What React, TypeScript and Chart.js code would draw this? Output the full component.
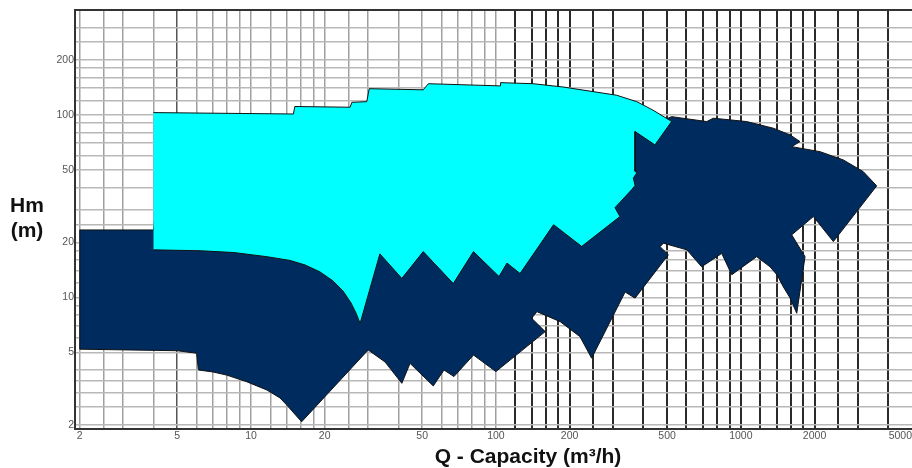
import React, { useEffect, useRef } from 'react';
import { Chart, registerables } from 'chart.js';

Chart.register(...registerables);

// Axis ranges (log-log)
const X_MIN = 1.912;
const X_MAX = 5000;
const Y_MIN = 1.9;
const Y_MAX = 375;

// Grid / tick values
const xTickValues = [X_MIN, 2, 2.5, 3, 4, 5, 6, 7, 8, 9, 10, 12, 14, 16, 18, 20, 25, 30, 40, 50, 60, 70, 80, 90, 100,
  120, 140, 160, 180, 200, 250, 300, 400, 500, 600, 700, 800, 900, 1000, 1200, 1400, 1600, 1800, 2000, 2500, 3000, 4000, 5000];
const xLabelValues = [2, 5, 10, 20, 50, 100, 200, 500, 1000, 2000, 5000];
const yTickValues = [2, 2.5, 3, 3.5, 4, 5, 6, 7, 8, 9, 10, 12, 14, 16, 18, 20, 25, 30, 40, 50, 60, 70, 80, 90, 100,
  120, 140, 160, 180, 200, 250, 300];
const yLabelValues = [2, 5, 10, 20, 50, 100, 200];

// Cyan range envelope (Q in m3/h, H in m)
const cyanQ = [4.0, 14.9, 15.1, 25.4, 25.8, 29.7, 30.4, 50.5, 53, 104, 104.5, 142, 188, 249, 311, 376, 438, 522,
  446, 370, 370, 376, 364, 370, 359, 306.5, 321, 224, 172, 125.5, 111, 103, 81, 67, 50.5, 41.3, 33.6, 27.9,
  26.84, 25.61, 23.75, 21.62, 19.13, 16.62, 14.43, 11.6, 8.5, 6.2, 4.0];
const cyanH = [102.8, 101, 111, 110, 117, 118, 139, 137, 148, 144, 150, 148, 142, 134, 128, 118, 106, 92,
  68.4, 81, 49, 48, 45, 41, 39, 31, 27.7, 19, 25, 13.5, 15.4, 13.0, 17.8, 11.9, 17.8, 12.7, 17.3, 7.2,
  8.21, 9.32, 10.84, 12.3, 13.78, 15.05, 15.93, 16.7, 17.6, 18.0, 18.2];

// Navy range envelope
const navyQ = [2.0, 4.0, 4.4, 388, 522, 726, 772, 1057, 1358, 1589, 1745, 1614, 2106, 2622, 3164, 3589,
  2387, 1978, 1614, 1829, 1692, 1589, 1492, 1406, 1316, 1161, 918, 836, 692, 602, 483, 468, 506, 370, 337, 246, 220.5,
  183, 147, 140, 159, 100, 81, 67.4, 61.4, 55.5, 44.6, 41.3, 35.3, 30.1, 16.1, 14.0, 13.14, 11.6, 9.6, 7.96, 7.0, 6.1,
  6.0, 5.0, 2.0];
const navyH = [23.4, 23.4, 82.6, 82.6, 97.7, 91.8, 95.8, 91.8, 84.4, 77.6, 71.3, 66.9, 62.8, 56.6, 48.8, 40.8,
  20.2, 27.7, 22.0, 16.7, 8.18, 9.92, 11.4, 13.27, 14.7, 16.7, 13.3, 17.4, 14.7, 18.2, 19.8, 18.95, 17.1, 9.9, 10.7, 4.64, 6.09,
  7.36, 8.35, 7.68, 6.49, 3.92, 4.83, 3.68, 4.0, 3.27, 4.35, 3.38, 4.42, 5.15, 2.08, 2.57, 2.81, 3.11, 3.45, 3.75, 3.9, 4.0,
  4.94, 5.1, 5.2];

const FONT = '"Liberation Sans", Arial, sans-serif';

function toClosedPoints(q: number[], h: number[]) {
  const pts = q.map((x, i) => ({ x, y: h[i] }));
  pts.push({ x: q[0], y: h[0] });
  return pts;
}

const decorPlugin = {
  id: 'decor',
  afterDraw(chart: any) {
    const { ctx, chartArea } = chart;
    ctx.save();
    ctx.strokeStyle = '#333';
    ctx.lineWidth = 2;
    ctx.beginPath();
    ctx.moveTo(chartArea.left - 1, chartArea.top);
    ctx.lineTo(chartArea.right, chartArea.top);
    ctx.stroke();
    ctx.fillStyle = '#111';
    ctx.font = `bold 21px ${FONT}`;
    ctx.textAlign = 'center';
    ctx.textBaseline = 'alphabetic';
    ctx.fillText('Hm', 27, 212);
    ctx.fillText('(m)', 27, 237);
    ctx.fillText('Q - Capacity (m³/h)', 528, 463);
    ctx.restore();
  },
};

export default function App() {
  const ref = useRef<HTMLCanvasElement | null>(null);

  useEffect(() => {
    if (!ref.current) return;
    const cyanPts = toClosedPoints(cyanQ, cyanH);
    const navyPts = toClosedPoints(navyQ, navyH);
    const chart = new Chart(ref.current, {
      type: 'scatter',
      data: {
        datasets: [
          {
            label: 'cyan',
            data: cyanPts,
            showLine: true,
            fill: 'shape',
            backgroundColor: '#00FFFF',
            borderColor: '#111',
            borderWidth: 1,
            pointRadius: 0,
            tension: 0,
            segment: {
              borderColor: (c: any) => (c.p1DataIndex === cyanPts.length - 1 ? 'rgba(0,0,0,0)' : '#111'),
            },
          } as any,
          {
            label: 'navy',
            data: navyPts,
            showLine: true,
            fill: 'shape',
            backgroundColor: '#002B5E',
            borderColor: '#111',
            borderWidth: 1,
            pointRadius: 0,
            tension: 0,
          } as any,
        ],
      },
      options: {
        animation: false,
        responsive: false,
        devicePixelRatio: 1,
        layout: { padding: { left: 0, right: 0, top: 10, bottom: 0 } },
        plugins: { legend: { display: false }, tooltip: { enabled: false } },
        scales: {
          x: {
            type: 'logarithmic',
            min: X_MIN,
            max: X_MAX,
            bounds: 'data',
            afterBuildTicks: (s: any) => {
              s.ticks = xTickValues.map((v) => ({ value: v }));
            },
            afterFit: (s: any) => {
              s.height = 39;
              s.paddingLeft = 0;
              s.paddingRight = 0;
            },
            ticks: {
              autoSkip: false,
              maxRotation: 0,
              align: 'inner',
              padding: 1,
              color: '#555',
              font: { family: FONT, size: 10.5 },
              callback: (v: any) => (xLabelValues.includes(v) ? String(v) : ''),
            },
            grid: {
              drawTicks: false,
              color: (c: any) => {
                const v = c.tick ? c.tick.value : 0;
                if (v === X_MIN || v === X_MAX) return 'rgba(0,0,0,0)';
                if (v >= 120) return '#2a2a2a';
                if (v === 5) return '#555';
                return '#a0a0a0';
              },
              lineWidth: (c: any) => {
                const v = c.tick ? c.tick.value : 0;
                return v >= 120 ? 2 : 1.5;
              },
            },
            border: { display: true, color: '#333', width: 2 },
          } as any,
          y: {
            type: 'logarithmic',
            min: Y_MIN,
            max: Y_MAX,
            bounds: 'data',
            afterBuildTicks: (s: any) => {
              s.ticks = yTickValues.map((v) => ({ value: v }));
            },
            afterFit: (s: any) => {
              s.width = 75;
              s.paddingTop = 0;
              s.paddingBottom = 0;
            },
            ticks: {
              autoSkip: false,
              padding: 1,
              color: '#555',
              font: { family: FONT, size: 10.5 },
              callback: (v: any) => (yLabelValues.includes(v) ? String(v) : ''),
            },
            grid: {
              drawTicks: false,
              color: '#b8b8b8',
              lineWidth: 1.5,
            },
            border: { display: true, color: '#333', width: 2 },
          } as any,
        },
      },
      plugins: [decorPlugin],
    });
    return () => chart.destroy();
  }, []);

  return (
    <div style={{ position: 'absolute', left: 0, top: 0, width: 912, height: 468, background: '#fff' }}>
      <canvas ref={ref} width={912} height={468} style={{ width: 912, height: 468 }} />
    </div>
  );
}
